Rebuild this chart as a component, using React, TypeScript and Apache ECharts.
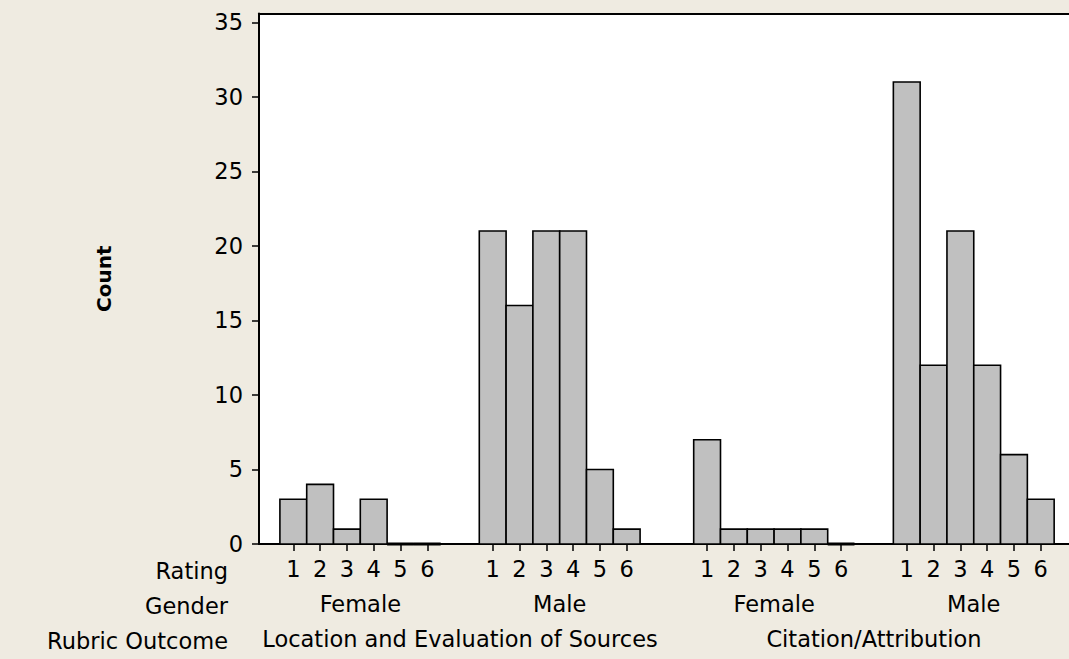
import React, { useEffect, useRef } from "react";
import * as echarts from "echarts";

// ---- data ----
const ratings = ["1", "2", "3", "4", "5", "6"];
const genders = ["Female", "Male", "Female", "Male"];
const outcomes = ["Location and Evaluation of Sources", "Citation/Attribution"];
const femaleLocation = [3, 4, 1, 3, 0, 0];
const maleLocation = [21, 16, 21, 21, 5, 1];
const femaleCitation = [7, 1, 1, 1, 1, 0];
const maleCitation = [31, 12, 21, 12, 6, 3];
const yTicks = [0, 5, 10, 15, 20, 25, 30, 35];
const rowTitles = ["Rating", "Gender", "Rubric Outcome"];

// ---- layout (slot units along the x axis; one slot = one bar) ----
const groupStart = [0.78, 8.22, 16.22, 23.67];
const groupValues = [femaleLocation, maleLocation, femaleCitation, maleCitation];
const W = 1069;
const H = 659;
const gridLeft = 259;
const gridTop = 13.5;
const gridBottomY = 544;
const gridRightX = W;
const slotPx = 26.8;
const xMax = (gridRightX - gridLeft) / slotPx;
const yMax = 35.6;
const FONT = "DejaVu Sans";
const FS = 22.5;
const BG = "#EFEBE1";

const key = (v: number) => v.toFixed(2);

export default function App() {
  const ref = useRef<HTMLDivElement>(null);
  useEffect(() => {
    if (!ref.current) return;
    const chart = echarts.init(ref.current, undefined, { renderer: "svg" });

    const barData: number[][] = [];
    const ratingPos: number[] = [];
    const ratingMap: Record<string, string> = {};
    const genderPos: number[] = [];
    const genderMap: Record<string, string> = {};
    groupValues.forEach((vals, g) => {
      vals.forEach((v, i) => {
        const x = groupStart[g] + 0.5 + i;
        barData.push([x, v]);
        ratingPos.push(x);
        ratingMap[key(x)] = ratings[i];
      });
      const c = groupStart[g] + ratings.length / 2;
      genderPos.push(c);
      genderMap[key(c)] = genders[g];
    });
    const outcomePos: number[] = [];
    const outcomeMap: Record<string, string> = {};
    outcomes.forEach((o, k) => {
      const c = (groupStart[2 * k] + groupStart[2 * k + 1] + ratings.length) / 2;
      outcomePos.push(c);
      outcomeMap[key(c)] = o;
    });

    const labelStyle = { color: "#000", fontFamily: FONT, fontSize: FS };
    const makeRowAxis = (pos: number[], map: Record<string, string>, offset: number) => ({
      type: "value",
      min: 0,
      max: xMax,
      position: "bottom",
      offset,
      axisLine: { show: false },
      axisTick: { show: false },
      splitLine: { show: false },
      axisLabel: {
        ...labelStyle,
        margin: 13,
        customValues: pos,
        formatter: (v: number) => map[key(v)] ?? "",
      },
    });

    chart.setOption({
      animation: false,
      backgroundColor: BG,
      grid: {
        left: gridLeft,
        top: gridTop,
        right: W - gridRightX,
        bottom: H - gridBottomY,
        show: true,
        backgroundColor: "#fff",
        borderWidth: 0,
      },
      xAxis: [
        {
          type: "value",
          min: 0,
          max: xMax,
          position: "bottom",
          axisLine: { show: true, onZero: false, lineStyle: { color: "#000", width: 2 } },
          axisTick: {
            show: true,
            length: 7,
            customValues: ratingPos,
            lineStyle: { color: "#000", width: 1.5 },
          },
          splitLine: { show: false },
          axisLabel: {
            ...labelStyle,
            margin: 13,
            customValues: ratingPos,
            formatter: (v: number) => ratingMap[key(v)] ?? "",
          },
        },
        makeRowAxis(genderPos, genderMap, 35),
        makeRowAxis(outcomePos, outcomeMap, 70),
        {
          type: "value",
          min: 0,
          max: xMax,
          position: "top",
          axisLine: { show: true, onZero: false, lineStyle: { color: "#000", width: 2 } },
          axisTick: { show: false },
          axisLabel: { show: false },
          splitLine: { show: false },
        },
      ],
      yAxis: {
        type: "value",
        min: 0,
        max: yMax,
        name: "Count",
        nameLocation: "middle",
        nameRotate: 90,
        nameGap: 145,
        nameTextStyle: { color: "#000", fontFamily: FONT, fontSize: 20, fontWeight: "bold" },
        axisLine: { show: true, lineStyle: { color: "#000", width: 2 } },
        axisTick: {
          show: true,
          length: 7,
          customValues: yTicks,
          lineStyle: { color: "#000", width: 1.5 },
        },
        splitLine: { show: false },
        axisLabel: { ...labelStyle, margin: 16, customValues: yTicks },
      },
      graphic: rowTitles.map((t, i) => ({
        type: "text",
        x: 228,
        y: 571 + i * 35,
        style: {
          text: t,
          fill: "#000",
          font: `${FS}px "${FONT}"`,
          align: "right",
          verticalAlign: "middle",
        },
      })),
      series: [
        {
          type: "custom",
          xAxisIndex: 0,
          data: barData,
          renderItem: (params: any, api: any) => {
            const x = api.value(0);
            const y = api.value(1);
            const p0 = api.coord([x - 0.5, y]);
            const p1 = api.coord([x + 0.5, 0]);
            return {
              type: "rect",
              shape: { x: p0[0], y: p0[1], width: p1[0] - p0[0], height: p1[1] - p0[1] },
              style: { fill: "#C0C0C0", stroke: "#000", lineWidth: y === 0 ? 3 : 1.6 },
            };
          },
        },
      ],
    });
    return () => chart.dispose();
  }, []);
  return (
    <div
      ref={ref}
      style={{ position: "fixed", left: 0, top: 0, width: W, height: H }}
    />
  );
}
